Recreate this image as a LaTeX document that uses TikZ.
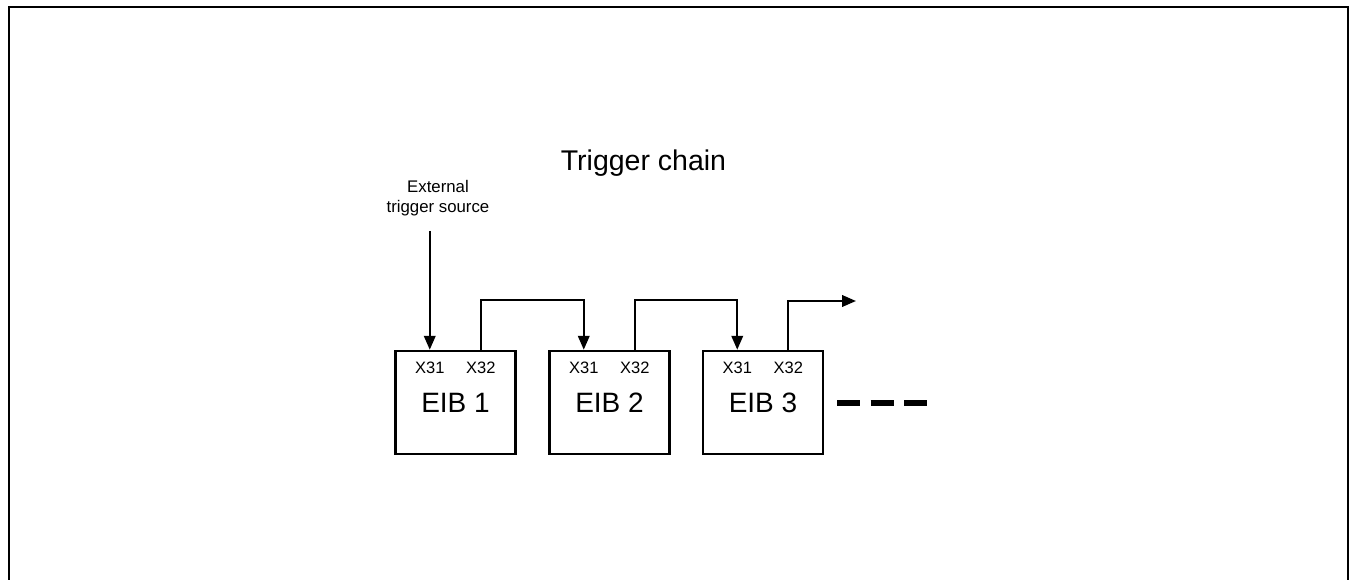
\documentclass[tikz,border=0pt]{standalone}
\usepackage{fontspec}
\setmainfont{Liberation Sans}
\usetikzlibrary{arrows.meta,calc}
\begin{document}
\begin{tikzpicture}[x=1pt,y=-1pt,
  line width=2.3pt,
  eib/.style={draw, line width=2.5pt, minimum width=120pt, minimum height=103pt, inner sep=0pt, font=\fontsize{28}{30}\selectfont},
  port/.style={font=\fontsize{16.5}{17}\selectfont, inner sep=0pt},
  conn/.style={line width=2.3pt, -{Triangle[length=14pt,width=11.5pt]}},
  lbl/.style={align=center, inner sep=0pt},
  dashline/.style={line width=5.5pt, dash pattern=on 23pt off 10.5pt}]
\useasboundingbox (0,0) rectangle (1356,580);
\draw[line width=2.5pt] (9,590) -- (9,7) -- (1348,7) -- (1348,590);
\node[lbl, font=\fontsize{28.5}{30}\selectfont] (title) at (643.5,163) {Trigger chain};
\node[lbl, font=\fontsize{16.8}{20.5}\selectfont] (ext) at (438,198) {External\\trigger source};
\node[eib] (e1) at (455.5,402.5) {EIB 1};
\node[eib] (e2) at (609.5,402.5) {EIB 2};
\node[eib] (e3) at (763,402.5) {EIB 3};
\foreach \b in {e1,e2,e3}{
  \coordinate (\b a) at ($(\b.north west)+(35.5,0)$);
  \coordinate (\b b) at ($(\b.north west)+(86.5,0)$);
  \node[port] (\b pa) at ($(\b a)+(0,18)$) {X31};
  \node[port] (\b pb) at ($(\b b)+(0,18)$) {X32};
}
\coordinate (src) at ($(e1a)+(0,-119)$);
\draw[conn] (src) -- (e1a);
\draw[conn] (e1b) -- ++(0,-50) -| (e2a);
\draw[conn] (e2b) -- ++(0,-50) -| (e3a);
\coordinate (out) at (856,301);
\draw[conn] (e3b) |- (out);
\coordinate (d1) at (837,403);
\coordinate (d2) at (927,403);
\draw[dashline] (d1) -- (d2);
\end{tikzpicture}
\end{document}
